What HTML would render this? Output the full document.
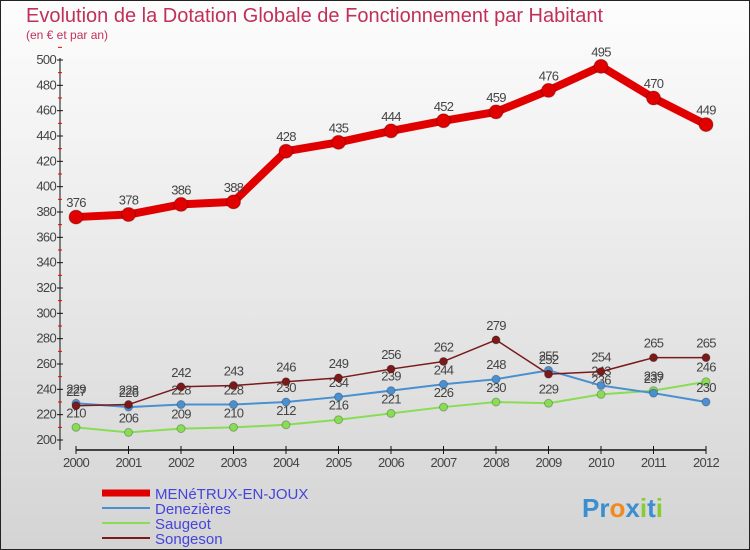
<!DOCTYPE html>
<html><head><meta charset="utf-8"><style>
body{margin:0}
#c{width:750px;height:550px;position:relative;overflow:hidden;font-family:"Liberation Sans",sans-serif}
</style></head><body>
<div id="c">
<svg id="s" width="750" height="550" xmlns="http://www.w3.org/2000/svg">
<defs><linearGradient id="bg" x1="0" y1="0" x2="0" y2="1"><stop offset="0" stop-color="#fdfdfd"/><stop offset="1" stop-color="#d4d4d4"/></linearGradient></defs>
<rect x="0.5" y="0.5" width="749" height="549" fill="url(#bg)" stroke="#222"/>
<text x="26" y="22" font-size="20" fill="#c0305a">Evolution de la Dotation Globale de Fonctionnement par Habitant</text>
<text x="26" y="39" font-size="12" fill="#c0305a">(en € et par an)</text>
<g id="axes"></g><g id="marks"></g>
<g>
<line x1="102" y1="493" x2="150" y2="493" stroke="#e00000" stroke-width="7"/>
<text x="155" y="499" font-size="15" fill="#4444dd">MENéTRUX-EN-JOUX</text>
<line x1="102" y1="508" x2="150" y2="508" stroke="#4a90d0" stroke-width="2"/>
<text x="155" y="514" font-size="15" fill="#4444dd">Denezières</text>
<line x1="102" y1="523" x2="150" y2="523" stroke="#88dd55" stroke-width="2"/>
<text x="155" y="529" font-size="15" fill="#4444dd">Saugeot</text>
<line x1="102" y1="538" x2="150" y2="538" stroke="#7a1a1a" stroke-width="2"/>
<text x="155" y="544" font-size="15" fill="#4444dd">Songeson</text>
</g>
<text x="582" y="517" font-size="26" font-weight="bold"><tspan fill="#3a8fd0">Pr</tspan><tspan fill="#f08a20">o</tspan><tspan fill="#3a8fd0">x</tspan><tspan fill="#88cc33">i</tspan><tspan fill="#3a8fd0">t</tspan><tspan fill="#88cc33">i</tspan></text>
</svg>
</div>
<script>
const years=[2000,2001,2002,2003,2004,2005,2006,2007,2008,2009,2010,2011,2012];
const menetrux=[376,378,386,388,428,435,444,452,459,476,495,470,449];
const denezieres=[229,226,228,228,230,234,239,244,248,255,243,237,230];
const saugeot=[210,206,209,210,212,216,221,226,230,229,236,239,246];
const songeson=[227,228,242,243,246,249,256,262,279,252,254,265,265];
const yTicks=[200,220,240,260,280,300,320,340,360,380,400,420,440,460,480,500];
const NS="http://www.w3.org/2000/svg";
const X=i=>76+i*52.5, Y=v=>440-(v-200)*380/300;
function mk(t,a,p){const e=document.createElementNS(NS,t);for(const k in a)e.setAttribute(k,a[k]);p.appendChild(e);return e;}
const ax=document.getElementById('axes'),mg=document.getElementById('marks');
let e=mk('line',{x1:60,y1:58,x2:60,y2:450,stroke:'#111'},ax);


e=mk('line',{x1:76,y1:450,x2:706,y2:450,stroke:'#111',"stroke-width":1.5},ax);


yTicks.forEach(v=>{
 mk('line',{x1:57,y1:Y(v),x2:63,y2:Y(v),stroke:'#111'},ax);
 mk('line',{x1:58,y1:Y(v+10),x2:62,y2:Y(v+10),stroke:'#e00'},ax);
 const t=mk('text',{x:56,y:Y(v)+4,"font-size":13,"text-anchor":"end",fill:'#444',"letter-spacing":"-0.7"},ax);t.textContent=v;
 
 
});
years.forEach((y,i)=>{
 mk('line',{x1:X(i),y1:446,x2:X(i),y2:454,stroke:'#111'},ax);
 const t=mk('text',{x:X(i),y:467,"font-size":13,"text-anchor":"middle",fill:'#444',"letter-spacing":"-0.7"},ax);t.textContent=y;
 
 
});
function series(d,col,w,r,name){
 const p=mk('polyline',{points:d.map((v,i)=>X(i)+','+Y(v)).join(' '),fill:'none',stroke:col,"stroke-width":w,"stroke-linejoin":"round"},mg);
 
 
 d.forEach((v,i)=>{
  const c=mk('circle',{cx:X(i),cy:Y(v),r:r,fill:col,stroke:'rgba(0,0,0,0.25)'},mg);
  
  
  const t=mk('text',{x:X(i),y:Y(v)-10,"font-size":13,"text-anchor":"middle",fill:'#444',"letter-spacing":"-0.7"},mg);t.textContent=v;
  
  
 });
}
series(saugeot,'#88dd55',2,4,'saugeot');
series(denezieres,'#4a90d0',2,4,'denezieres');
series(songeson,'#7a1a1a',1.5,4,'songeson');
series(menetrux,'#e00000',8,7,'menetrux');
</script>
</body></html>
